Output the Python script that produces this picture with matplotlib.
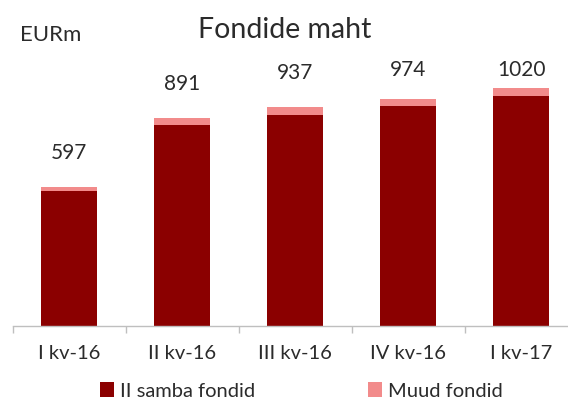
import matplotlib
matplotlib.use("Agg")
import matplotlib.pyplot as plt
import numpy as np

categories = ["I kv-16", "II kv-16", "III kv-16", "IV kv-16", "I kv-17"]
totals = [597, 891, 937, 974, 1020]
muud = [20, 31, 31, 31, 33]
samba = [t - m for t, m in zip(totals, muud)]
series_names = ["II samba fondid", "Muud fondid"]

DARK = "#8B0000"
PINK = "#F28B8B"
TXT = "#2b2b2b"

plt.rcParams['font.family'] = ['Lato', 'DejaVu Sans']

W, H = 568, 401
fig = plt.figure(figsize=(W / 100, H / 100), dpi=100)
left_px, right_px = 12.7, 577.5
base_px = 326
ymax = 1200
px_per_unit = 0.2333
height_px = ymax * px_per_unit
ax = fig.add_axes([left_px / W, (H - base_px) / H, (right_px - left_px) / W, height_px / H])

x = np.arange(len(categories))
b1 = ax.bar(x, samba, width=0.5, color=DARK, label=series_names[0], zorder=2)
b2 = ax.bar(x, muud, width=0.5, bottom=samba, color=PINK, label=series_names[1], zorder=2)

ax.set_xlim(-0.5, len(categories) - 0.5)
ax.set_ylim(0, ymax)

for s in ["top", "right", "left"]:
    ax.spines[s].set_visible(False)
ax.spines["bottom"].set_color("#bfbfbf")
ax.spines["bottom"].set_linewidth(1.0)
ax.set_yticks([])
ax.set_xticks(x)
ax.set_xticklabels(categories, fontsize=14.5, color=TXT)
ax.tick_params(axis="x", which="major", length=0, pad=14)
ax.set_xticks(np.arange(-0.5, len(categories) + 0.5, 1), minor=True)
ax.tick_params(axis="x", which="minor", length=5, color="#bfbfbf", width=1.0)

# value labels (clamped inside plot area like Excel)
offset = 24 / px_per_unit
cap = 1054
for xi, t in zip(x, totals):
    yl = min(t + offset, cap)
    ax.text(xi, yl, f"{t}", ha="center", va="bottom", fontsize=15, color=TXT)

fig.text(285 / W, 1 - 30 / H, "Fondide maht", ha="center", va="center", fontsize=20.5, color=TXT)
fig.text(20 / W, 1 - 35 / H, "EURm", ha="left", va="center", fontsize=16, color=TXT)

fig.legend(handles=[b1, b2], labels=series_names, loc="center", bbox_to_anchor=(301 / W, 1 - 391 / H),
           ncol=2, frameon=False, fontsize=14.5, handlelength=0.7, handleheight=0.7,
           handletextpad=0.3, columnspacing=5.6, labelcolor=TXT, borderpad=0.1)

fig.savefig("out.png", dpi=100)
